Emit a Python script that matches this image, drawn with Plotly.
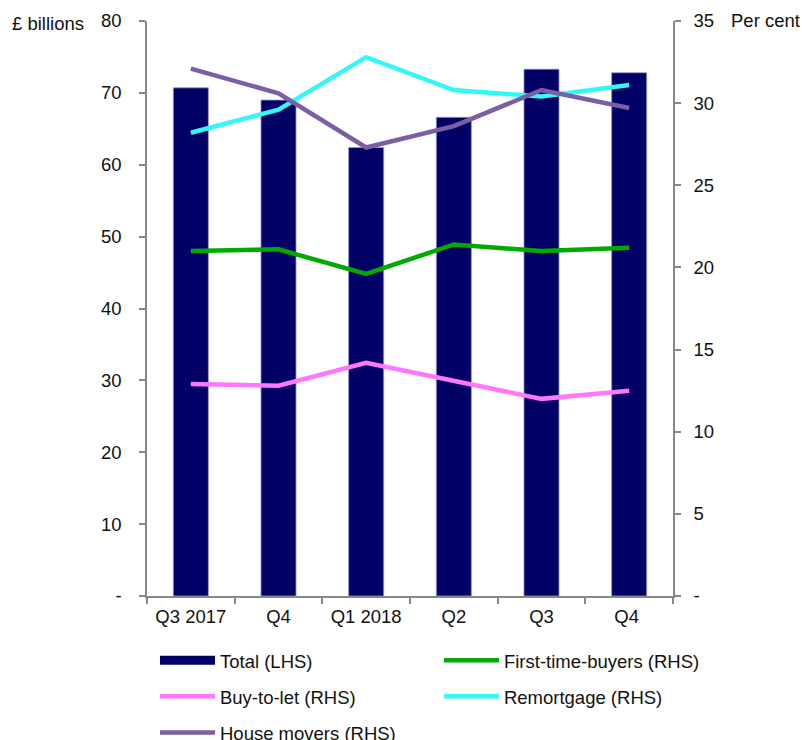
import plotly.graph_objects as go

categories = ["Q3 2017", "Q4", "Q1 2018", "Q2", "Q3", "Q4 "]
total_lhs = [70.7, 69.0, 62.4, 66.6, 73.3, 72.8]
first_time_buyers = [21.0, 21.1, 19.6, 21.4, 21.0, 21.2]
buy_to_let = [12.9, 12.8, 14.2, 13.1, 12.0, 12.5]
remortgage = [28.2, 29.6, 32.8, 30.8, 30.4, 31.1]
house_movers = [32.1, 30.6, 27.3, 28.6, 30.8, 29.7]

left_ticks = [0, 10, 20, 30, 40, 50, 60, 70, 80]
left_labels = ["-", "10", "20", "30", "40", "50", "60", "70", "80"]
right_ticks = [0, 5, 10, 15, 20, 25, 30, 35]
right_labels = ["-", "5", "10", "15", "20", "25", "30", "35"]

NAVY = "#000066"
FONT = "Liberation Sans, Arial, sans-serif"
FS = 18.5

fig = go.Figure()
fig.add_trace(go.Bar(x=categories, y=total_lhs, name="Total (LHS)",
                     marker=dict(color=NAVY, line=dict(color="#9a9acc", width=0.8)),
                     width=0.4, showlegend=False, yaxis="y"))
# legend entry for bars (wide swatch)
fig.add_trace(go.Scatter(x=[None], y=[None], mode="lines", name="Total (LHS)",
                         line=dict(color=NAVY, width=9), yaxis="y",
                         legend="legend", legendgroup="g1"))
series = [
    ("First-time-buyers (RHS)", first_time_buyers, "#00aa00", "legend2", "g2"),
    ("Buy-to-let (RHS)", buy_to_let, "#ff77ff", "legend", "g3"),
    ("Remortgage (RHS)", remortgage, "#33f8f8", "legend2", "g4"),
    ("House movers (RHS)", house_movers, "#7b5ea3", "legend", "g5"),
]
for name, vals, col, leg, grp in series:
    fig.add_trace(go.Scatter(x=categories, y=vals, mode="lines", name=name,
                             line=dict(color=col, width=4.5), yaxis="y2",
                             legend=leg, legendgroup=grp))

axis_font = dict(family=FONT, size=FS, color="#111111")
leg_common = dict(orientation="v", yanchor="top", itemwidth=55, tracegroupgap=9,
                  font=dict(family=FONT, size=FS, color="#111111"),
                  bgcolor="rgba(0,0,0,0)", traceorder="grouped")
fig.update_layout(
    width=802, height=740,
    margin=dict(l=147, r=129, t=21, b=144, autoexpand=False),
    paper_bgcolor="white", plot_bgcolor="white",
    font=dict(family=FONT, size=FS, color="#111111"),
    xaxis=dict(type="category", showline=True, linecolor="#888888", linewidth=1.5,
               ticks="outside", tickson="boundaries", ticklen=6, tickcolor="#888888", tickwidth=1.5,
               tickfont=axis_font, showgrid=False, zeroline=False, ticklabelstandoff=3),
    yaxis=dict(range=[0, 80], tickvals=left_ticks, ticktext=left_labels, showline=True,
               linecolor="#888888", linewidth=1.5, ticks="outside", ticklen=6, tickcolor="#888888",
               tickwidth=1.5, tickfont=axis_font, showgrid=False, zeroline=False, ticklabelstandoff=14),
    yaxis2=dict(range=[0, 35], tickvals=right_ticks, ticktext=right_labels, overlaying="y", side="right",
                showline=True, linecolor="#888888", linewidth=1.5, ticks="outside", ticklen=6,
                tickcolor="#888888", tickwidth=1.5, tickfont=axis_font, showgrid=False, zeroline=False,
                ticklabelstandoff=9),
    legend=dict(x=0.0152, xanchor="left", y=-0.0796, **leg_common),
    legend2=dict(x=0.555, xanchor="left", y=-0.0796, **leg_common),
    annotations=[
        dict(text="£ billions", xref="paper", yref="paper", x=-0.2605, y=0.9948, xanchor="left",
             yanchor="middle", showarrow=False, font=dict(family=FONT, size=FS, color="#111111")),
        dict(text="Per cent", xref="paper", yref="paper", x=1.1065, y=1.0017, xanchor="left",
             yanchor="middle", showarrow=False, font=dict(family=FONT, size=FS, color="#111111")),
    ],
)

fig.write_html("out.html", config={"displayModeBar": False},
               post_script="document.body.style.margin='0px';document.body.style.overflow='hidden';")
